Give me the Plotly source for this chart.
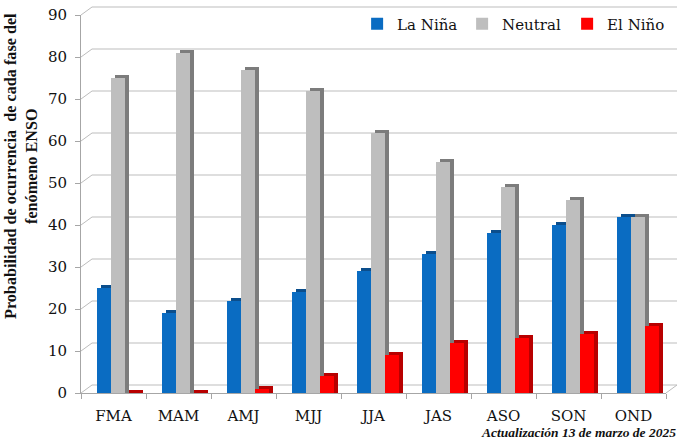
import plotly.graph_objects as go

categories = ["FMA", "MAM", "AMJ", "MJJ", "JJA", "JAS", "ASO", "SON", "OND"]
la_nina = [25, 19, 22, 24, 29, 33, 38, 40, 42]
neutral = [75, 81, 77, 72, 62, 55, 49, 46, 42]
el_nino = [0, 0, 1, 4, 9, 12, 13, 14, 16]
y_ticks = [0, 10, 20, 30, 40, 50, 60, 70, 80, 90]

series = [
    ("La Niña", la_nina, "#0A6CC2", "#0B4E8C"),
    ("Neutral", neutral, "#BEBEBE", "#7C7C7C"),
    ("El Niño", el_nino, "#FF0000", "#B80000"),
]

W, H = 680, 443
ML, MR, MT, MB = 81, 14, 15, 50
pw = W - ML - MR
ph = H - MT - MB
ymax = 90.0
cat_px = pw / len(categories)
bar_w = 14 / cat_px
offsets = [-16.5 / cat_px, -2.5 / cat_px, 11.5 / cat_px]
dx = 4 / cat_px            # depth shift (category units)
dy = 3 * ymax / ph         # depth shift (data units)

fig = go.Figure()
for (name, vals, front, side), off in zip(series, offsets):
    fig.add_trace(go.Bar(
        x=categories, y=[v + dy for v in vals], base=0,
        width=bar_w, offset=off + dx, marker=dict(color=side, line=dict(width=0)),
        showlegend=False, hoverinfo="skip"))
    fig.add_trace(go.Bar(
        x=categories, y=vals, name=name,
        width=bar_w, offset=off, marker=dict(color=front, line=dict(width=0))))

# back wall gridlines (3D perspective)
gx = 11 / pw
gy = 8 / ph
grid_col = "#BDBDBD"
shapes = []
for v in y_ticks:
    yp = v / ymax
    shapes.append(dict(type="line", xref="paper", yref="paper", x0=0, y0=yp,
                       x1=gx, y1=yp + gy, line=dict(color=grid_col, width=1), layer="below"))
    shapes.append(dict(type="line", xref="paper", yref="paper", x0=gx, y0=yp + gy,
                       x1=1 + gx, y1=yp + gy, line=dict(color=grid_col, width=1), layer="below"))
shapes.append(dict(type="line", xref="paper", yref="paper", x0=1, y0=0,
                   x1=1 + gx, y1=gy, line=dict(color=grid_col, width=1), layer="below"))

serif = "DejaVu Serif"
fig.update_layout(
    width=W, height=H,
    margin=dict(l=ML, r=MR, t=MT, b=MB, autoexpand=False),
    paper_bgcolor="white", plot_bgcolor="white",
    barmode="overlay", bargap=0,
    shapes=shapes,
    xaxis=dict(type="category", categoryorder="array", categoryarray=categories,
               tickson="boundaries", ticks="outside", ticklen=5, tickcolor="#A6A6A6",
               showline=True, linecolor="#A6A6A6", showgrid=False, zeroline=False,
               ticklabelstandoff=9, automargin=False,
               tickfont=dict(family=serif, size=15, color="#111111")),
    yaxis=dict(range=[0, ymax], tickvals=y_ticks, ticks="outside", ticklen=5,
               tickcolor="#A6A6A6", showline=True, linecolor="#A6A6A6",
               showgrid=False, zeroline=False, ticklabelstandoff=5, automargin=False,
               tickfont=dict(family=serif, size=15, color="#111111")),
    legend=dict(orientation="h", x=0.472, y=0.976, xanchor="left", yanchor="middle",
                font=dict(family=serif, size=15, color="#111111"),
                bgcolor="rgba(0,0,0,0)", entrywidth=60, traceorder="normal"),
    annotations=[
        dict(text="<b>Probabilidad de ocurrencia  de cada fase del<br>fenómeno ENSO</b>",
             xref="paper", yref="paper", x=(22 - ML) / pw, y=(H - MB - 166) / ph,
             xanchor="center", yanchor="middle", textangle=-90, showarrow=False,
             font=dict(family="Liberation Serif", size=16.2, color="#111111")),
        dict(text="<b><i>Actualización 13 de marzo de 2025</i></b>",
             xref="paper", yref="paper", x=(678 - ML) / pw, y=(H - MB - 432) / ph,
             xanchor="right", yanchor="middle", showarrow=False,
             font=dict(family="Liberation Serif", size=13.5, color="#111111")),
    ],
)

fig.write_html("out.html", config={"displayModeBar": False},
               post_script="document.body.style.margin='0';")
